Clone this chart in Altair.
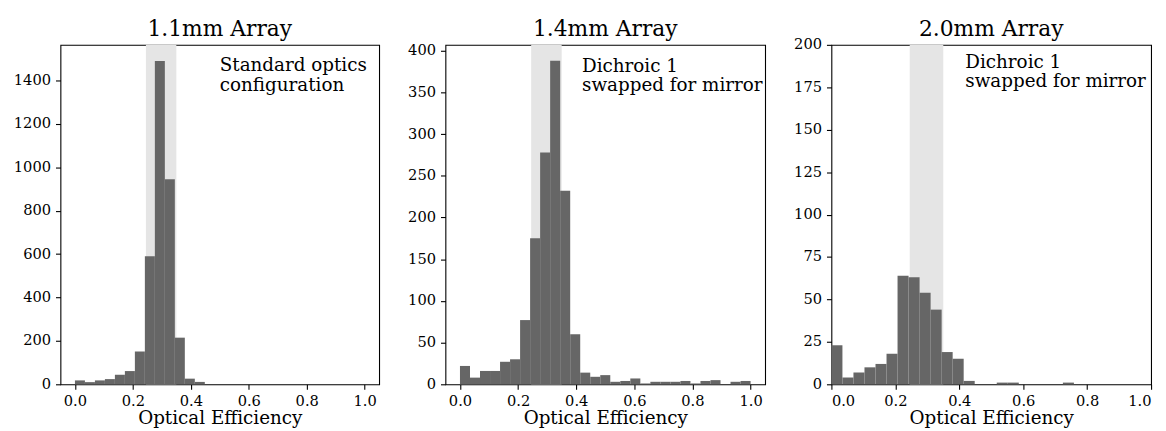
import altair as alt
import pandas as pd

# ---- data ----
BIN_COUNT = 29            # histogram bins spanning 0 .. 1
counts_11 = [18, 10, 18, 24, 44, 61, 151, 590, 1491, 945, 215, 26, 11, 0, 0, 0, 0, 0, 0, 0, 0, 0, 0, 0, 0, 0, 0, 0, 0]
counts_14 = [22, 8, 16, 16, 27, 30, 77, 175, 278, 388, 232, 60, 14, 9, 11, 3, 4, 7, 1, 3, 3, 3, 4, 1, 4, 5, 0, 3, 4]
counts_20 = [23, 4, 7, 10, 12, 18, 64, 63, 54, 44, 19, 15, 2, 0, 0, 1, 1, 0, 0, 0, 0, 1, 0, 0, 0, 0, 0, 0, 0]
COUNTS = [counts_11, counts_14, counts_20]
TITLES = ["1.1mm Array", "1.4mm Array", "2.0mm Array"]
NOTES = ["Standard optics\nconfiguration", "Dichroic 1\nswapped for mirror", "Dichroic 1\nswapped for mirror"]
SHADE = [0.245, 0.35]
X_TICKS = [0.0, 0.2, 0.4, 0.6, 0.8, 1.0]
Y_TICKS = [list(range(0, 1401, 200)), list(range(0, 401, 50)), list(range(0, 201, 25))]
X_DOMAINS = [[-0.05, 1.05], [-0.05, 1.05], [0.0, 1.0]]
Y_DOMAINS = [[0, 1565], [0, 407], [0, 200]]
X_LABEL = "Optical Efficiency"

# ---- layout / style ----
FONT = "DejaVu Serif"
WIDTHS = [322, 323, 323]
H = 343
EXTENTS = [48, 39, 39]
NOTE_POS = [(161, 26.5), (138, 27.3), (135.3, 23)]
TITLE_BASELINE = -9
TICK_FS = 14.8
LABEL_FS = 18.5
TITLE_FS = 22


def panel(i):
    counts = COUNTS[i]
    df = pd.DataFrame({
        "lo": [k / BIN_COUNT for k in range(BIN_COUNT)],
        "hi": [(k + 1) / BIN_COUNT for k in range(BIN_COUNT)],
        "count": counts,
    })
    df = df[df["count"] > 0]
    xs = alt.Scale(domain=X_DOMAINS[i], nice=False, zero=False)
    ys = alt.Scale(domain=Y_DOMAINS[i], nice=False)
    xaxis = alt.Axis(values=X_TICKS, format=".1f", title=X_LABEL, grid=False, domain=False,
                     tickSize=5, tickWidth=1.1, tickColor="black", labelPadding=4,
                     labelFont=FONT, labelFontSize=TICK_FS, labelColor="black",
                     titleFont=FONT, titleFontSize=LABEL_FS, titleFontWeight="normal",
                     titleColor="black", titlePadding=1)
    yaxis = alt.Axis(values=Y_TICKS[i], format="d", title=None, grid=False, domain=False,
                     tickSize=5, tickWidth=1.1, tickColor="black", labelPadding=5,
                     labelFont=FONT, labelFontSize=TICK_FS, labelColor="black",
                     minExtent=EXTENTS[i])
    shade_df = pd.DataFrame({"a": [SHADE[0]], "b": [SHADE[1]]})
    shade = alt.Chart(shade_df).mark_rect(color="#e5e5e5").encode(
        x=alt.X("a:Q", scale=xs, axis=xaxis), x2="b:Q",
        y=alt.value(0), y2=alt.value(H))
    bars = alt.Chart(df).mark_rect(color="#666666").encode(
        x=alt.X("lo:Q", scale=xs, axis=xaxis), x2="hi:Q",
        y=alt.Y("count:Q", scale=ys, axis=yaxis), y2=alt.datum(0))
    note = alt.Chart(pd.DataFrame({"t": [NOTES[i]]})).mark_text(
        font=FONT, fontSize=LABEL_FS, align="left", baseline="alphabetic",
        lineBreak="\n", lineHeight=19.8, color="black").encode(
        x=alt.value(NOTE_POS[i][0]), y=alt.value(NOTE_POS[i][1]), text="t:N")
    title = alt.Chart(pd.DataFrame({"t": [TITLES[i]]})).mark_text(
        font=FONT, fontSize=TITLE_FS, align="center", baseline="alphabetic",
        color="black").encode(
        x=alt.value(WIDTHS[i] / 2), y=alt.value(TITLE_BASELINE), text="t:N")
    return alt.layer(shade, bars, note, title).properties(width=WIDTHS[i], height=H)


chart = alt.hconcat(panel(0), panel(1), panel(2), spacing=26).resolve_scale(
    x="independent", y="independent").properties(
    padding={"left": 4, "top": 7, "right": 5, "bottom": 5}).configure(
    background="white", view=alt.ViewConfig(stroke="black", strokeWidth=1.1))

chart.save("out.html", embed_options={"renderer": "svg", "actions": False})
